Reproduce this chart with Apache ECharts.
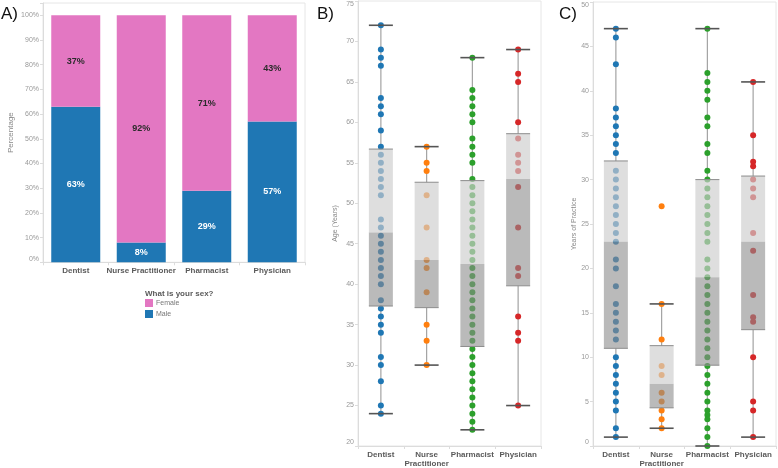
<!DOCTYPE html>
<html>
<head>
<meta charset="utf-8">
<script src="https://cdn.jsdelivr.net/npm/echarts@6/dist/echarts.min.js"></script>
<style>
html,body{margin:0;padding:0;background:#fff;}
#chart{width:778px;height:468px;}
</style>
</head>
<body>
<div id="chart"></div>
<script>
// ---------- Panel A data ----------
const sexCategories = ['Dentist', 'Nurse Practitioner', 'Pharmacist', 'Physician'];
const malePct = [63, 8, 29, 57];
const femalePct = [37, 92, 71, 43];
const pctTicks = [0, 10, 20, 30, 40, 50, 60, 70, 80, 90, 100];

// ---------- Panel B / C categories ----------
const boxCategories = ['Dentist', 'Nurse\nPractitioner', 'Pharmacist', 'Physician'];

// ---------- Panel B: Age (Years) ----------
const dentistAge = [72,69,68,67,63,62,61,59,57,56,55,54,53,52,51,48,47,46,45,44,43,42,41,40,38,37,36,35,34,31,30,28,25,24];
const nurseAge = [57,55,54,51,47,43,42,39,35,33,30];
const pharmacistAge = [68,64,63,62,61,60,58,57,56,55,53,52,51,50,49,48,47,46,45,44,43,42,41,40,39,38,37,36,35,34,33,32,31,30,29,28,27,26,25,24,23,22];
const physicianAge = [69,66,65,60,58,56,55,54,52,47,42,41,36,34,33,25];
const ageLow = [24, 30, 22, 25];
const ageQ1 = [37.3, 37.1, 32.3, 39.8];
const ageMedian = [46.4, 43.0, 42.5, 53.0];
const ageQ3 = [56.7, 52.6, 52.8, 58.6];
const ageHigh = [72, 57, 68, 69];

// ---------- Panel C: Years of Practice ----------
const dentistYears = [47,46,43,38,37,36,35,34,33,31,30,29,28,27,26,25,24,23,21,20,18,16,15,14,13,12,10,9,8,7,6,5,4,2,1];
const nurseYears = [27,16,12,9,8,6,5,4,3,2];
const pharmacistYears = [47,42,41,40,39,37,36,34,33,31,30,29,28,27,26,25,24,23,21,20,19,18,17,16,15,14,13,12,11,10,9,8,7,6,5,4,3.5,3,2,1,0];
const physicianYears = [41,35,32,31.5,30,29,28,24,22,17,14.5,14,10,5,4,1];
const yearsLow = [1, 2, 0, 1];
const yearsQ1 = [11, 4.3, 9.1, 13.1];
const yearsMedian = [23, 7, 19, 23];
const yearsQ3 = [32.1, 11.3, 30, 30.4];
const yearsHigh = [47, 16, 47, 41];

const groupColors = ['#1f77b4', '#ff7f0e', '#2ca02c', '#d62728'];
const FONT = '"Liberation Sans", Arial, sans-serif';

const chart = echarts.init(document.getElementById('chart'), null, {renderer: 'canvas'});

function boxData(low, q1, med, q3, high) {
  return low.map((l, i) => [i, l, q1[i], med[i], q3[i], high[i]]);
}

const HALF = 12;
function whiskerRender(params, api) {
  const i = api.value(0);
  const pLow = api.coord([i, api.value(1)]);
  const pQ1 = api.coord([i, api.value(2)]);
  const pQ3 = api.coord([i, api.value(4)]);
  const pHigh = api.coord([i, api.value(5)]);
  const st = {stroke: '#a3a3a3', lineWidth: 1.2};
  return {type: 'group', children: [
    {type: 'line', shape: {x1: pLow[0], y1: pLow[1], x2: pQ1[0], y2: pQ1[1]}, style: st},
    {type: 'line', shape: {x1: pQ3[0], y1: pQ3[1], x2: pHigh[0], y2: pHigh[1]}, style: st}
  ]};
}
function boxRender(params, api) {
  const i = api.value(0);
  const pLow = api.coord([i, api.value(1)]);
  const pQ1 = api.coord([i, api.value(2)]);
  const pMed = api.coord([i, api.value(3)]);
  const pQ3 = api.coord([i, api.value(4)]);
  const pHigh = api.coord([i, api.value(5)]);
  const cx = pMed[0];
  const edge = {stroke: '#8c8c8c', lineWidth: 1};
  const cap = {stroke: '#555555', lineWidth: 1.6};
  return {type: 'group', children: [
    {type: 'rect', shape: {x: cx - HALF, y: pQ3[1], width: HALF * 2, height: pMed[1] - pQ3[1]}, style: {fill: 'rgba(205,205,205,0.66)'}},
    {type: 'rect', shape: {x: cx - HALF, y: pMed[1], width: HALF * 2, height: pQ1[1] - pMed[1]}, style: {fill: 'rgba(140,140,140,0.6)'}},
    {type: 'line', shape: {x1: cx - HALF, y1: pQ3[1], x2: cx + HALF, y2: pQ3[1]}, style: edge},
    {type: 'line', shape: {x1: cx - HALF, y1: pQ1[1], x2: cx + HALF, y2: pQ1[1]}, style: edge},
    {type: 'line', shape: {x1: cx - HALF, y1: pLow[1], x2: cx + HALF, y2: pLow[1]}, style: cap},
    {type: 'line', shape: {x1: cx - HALF, y1: pHigh[1], x2: cx + HALF, y2: pHigh[1]}, style: cap}
  ]};
}

function dotSeries(values, catIdx, axisIdx) {
  return {
    type: 'scatter', xAxisIndex: axisIdx, yAxisIndex: axisIdx, z: 2,
    symbolSize: 6, silent: true,
    itemStyle: {color: groupColors[catIdx], opacity: 1},
    data: values.map(v => [catIdx, v])
  };
}

const catAxisCommon = {
  type: 'category', boundaryGap: true,
  axisLine: {lineStyle: {color: '#dcdcdc'}},
  axisTick: {show: true, length: 3, lineStyle: {color: '#dcdcdc'}},
  axisLabel: {fontFamily: FONT, fontSize: 8, fontWeight: 'bold', color: '#5a5a5a', margin: 4, lineHeight: 9, interval: 0}
};
const valAxisCommon = {
  type: 'value',
  splitLine: {show: false},
  axisLine: {show: true, lineStyle: {color: '#dcdcdc'}},
  axisTick: {show: true, length: 3, lineStyle: {color: '#dcdcdc'}},
  axisLabel: {fontFamily: FONT, fontSize: 7, color: '#999', margin: 4, verticalAlignMaxLabel: 'top', verticalAlignMinLabel: 'bottom'},
  nameLocation: 'middle',
  nameTextStyle: {fontFamily: FONT, fontSize: 7, color: '#888'}
};

const option = {
  animation: false,
  backgroundColor: '#fff',
  textStyle: {fontFamily: FONT},
  grid: [
    {left: 43, top: 3, width: 262, height: 259.3, show: true, borderColor: '#e6e6e6', borderWidth: 1, backgroundColor: 'transparent'},
    {left: 358, top: 1, width: 183, height: 449, show: true, borderColor: '#e6e6e6', borderWidth: 1, backgroundColor: 'transparent'},
    {left: 593, top: 2, width: 183, height: 450.5, show: true, borderColor: '#e6e6e6', borderWidth: 1, backgroundColor: 'transparent'}
  ],
  xAxis: [
    Object.assign({}, catAxisCommon, {gridIndex: 0, data: sexCategories}),
    Object.assign({}, catAxisCommon, {gridIndex: 1, data: boxCategories}),
    Object.assign({}, catAxisCommon, {gridIndex: 2, data: boxCategories})
  ],
  yAxis: [
    Object.assign({}, valAxisCommon, {gridIndex: 0, min: 0, max: 105, interval: 10, name: 'Percentage', nameGap: 28,
      nameTextStyle: {fontFamily: FONT, fontSize: 8, color: '#888'},
      axisLabel: Object.assign({}, valAxisCommon.axisLabel, {formatter: v => pctTicks.indexOf(v) >= 0 ? v + '%' : ''})}),
    Object.assign({}, valAxisCommon, {gridIndex: 1, min: 20, max: 75, interval: 5, name: 'Age (Years)', nameGap: 19}),
    Object.assign({}, valAxisCommon, {gridIndex: 2, min: 0, max: 50, interval: 5, name: 'Years of Practice', nameGap: 14})
  ],
  legend: {
    orient: 'vertical', left: 145, top: 299, itemWidth: 8, itemHeight: 8, itemGap: 3, padding: 0,
    icon: 'rect', data: ['Female', 'Male'],
    textStyle: {fontFamily: FONT, fontSize: 7, color: '#777', padding: [0, 0, 0, -2]}
  },
  graphic: [
    {type: 'text', left: 145, top: 290, style: {text: 'What is your sex?', font: 'bold 8px ' + FONT, fill: '#5a5a5a'}},
    {type: 'text', left: 1, top: 6, style: {text: 'A)', font: '17px ' + FONT, fill: '#111'}},
    {type: 'text', left: 317, top: 6, style: {text: 'B)', font: '17px ' + FONT, fill: '#111'}},
    {type: 'text', left: 559, top: 6, style: {text: 'C)', font: '17px ' + FONT, fill: '#111'}}
  ],
  series: [
    {name: 'Male', type: 'bar', stack: 'sex', xAxisIndex: 0, yAxisIndex: 0, barWidth: 49,
      itemStyle: {color: '#1f77b4'}, data: malePct,
      label: {show: true, position: 'inside', formatter: p => p.value + '%', fontFamily: FONT, fontSize: 9, fontWeight: 'bold', color: '#fff'}},
    {name: 'Female', type: 'bar', stack: 'sex', xAxisIndex: 0, yAxisIndex: 0, barWidth: 49,
      itemStyle: {color: '#e377c2'}, data: femalePct,
      label: {show: true, position: 'inside', formatter: p => p.value + '%', fontFamily: FONT, fontSize: 9, fontWeight: 'bold', color: '#2b2b2b'}},

    {type: 'custom', xAxisIndex: 1, yAxisIndex: 1, z: 1, silent: true, renderItem: whiskerRender,
      encode: {x: 0, y: [1, 2, 3, 4, 5]}, data: boxData(ageLow, ageQ1, ageMedian, ageQ3, ageHigh)},
    dotSeries(dentistAge, 0, 1), dotSeries(nurseAge, 1, 1), dotSeries(pharmacistAge, 2, 1), dotSeries(physicianAge, 3, 1),
    {type: 'custom', xAxisIndex: 1, yAxisIndex: 1, z: 3, silent: true, renderItem: boxRender,
      encode: {x: 0, y: [1, 2, 3, 4, 5]}, data: boxData(ageLow, ageQ1, ageMedian, ageQ3, ageHigh)},

    {type: 'custom', xAxisIndex: 2, yAxisIndex: 2, z: 1, silent: true, renderItem: whiskerRender,
      encode: {x: 0, y: [1, 2, 3, 4, 5]}, data: boxData(yearsLow, yearsQ1, yearsMedian, yearsQ3, yearsHigh)},
    dotSeries(dentistYears, 0, 2), dotSeries(nurseYears, 1, 2), dotSeries(pharmacistYears, 2, 2), dotSeries(physicianYears, 3, 2),
    {type: 'custom', xAxisIndex: 2, yAxisIndex: 2, z: 3, silent: true, renderItem: boxRender,
      encode: {x: 0, y: [1, 2, 3, 4, 5]}, data: boxData(yearsLow, yearsQ1, yearsMedian, yearsQ3, yearsHigh)}
  ]
};
chart.setOption(option);
</script>
</body>
</html>
